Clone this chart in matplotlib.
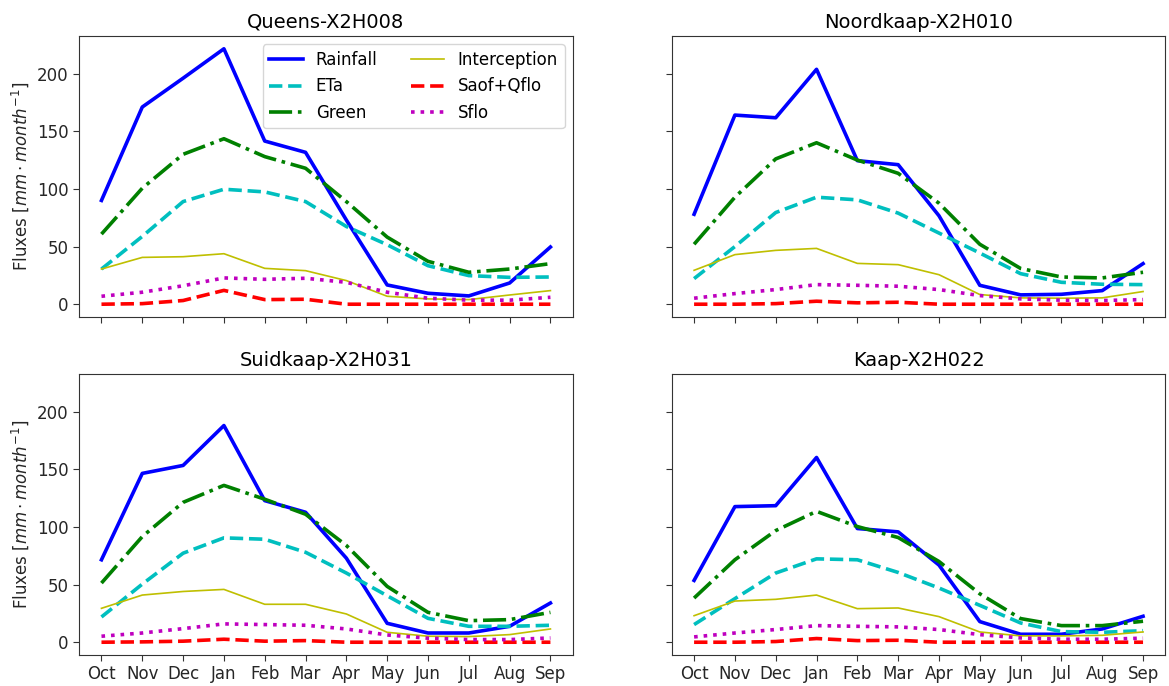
import matplotlib
matplotlib.use("Agg")
import matplotlib.pyplot as plt

months = ["Oct", "Nov", "Dec", "Jan", "Feb", "Mar", "Apr", "May", "Jun", "Jul", "Aug", "Sep"]
titles = ["Queens-X2H008", "Noordkaap-X2H010", "Suidkaap-X2H031", "Kaap-X2H022"]
series_names = ["Rainfall", "ETa", "Green", "Interception", "Saof+Qflo", "Sflo"]

# Queens-X2H008
queens_rain = [90, 171, 196, 221.5, 141.5, 131.7, 73, 16.7, 9.5, 7.2, 18.4, 49.6]
queens_eta = [30.5, 58.8, 89, 99.7, 97.4, 89, 67.4, 51.6, 33.4, 24.8, 23.3, 23.6]
queens_green = [60.8, 100.6, 130, 143.5, 128, 117.9, 89, 58.2, 37.2, 27.7, 30.5, 35.2]
queens_interc = [30.5, 40.6, 41.2, 43.8, 31.1, 29.1, 20.5, 6.9, 4.6, 4.0, 8.0, 11.8]
queens_saof = [0, 0.5, 3.2, 12, 4, 4.3, 0, 0, 0, 0, 0, 0]
queens_sflo = [6.9, 10.4, 16, 22.8, 21.6, 22.5, 19, 10.4, 5.2, 3.5, 3.5, 6]

# Noordkaap-X2H010
noord_rain = [78, 164, 161.7, 203.7, 124.5, 121, 76.7, 16.4, 8.1, 8.6, 11.8, 35.2]
noord_eta = [22.2, 50, 79.5, 92.8, 90.5, 79, 61.7, 44.4, 26.5, 19, 17.3, 17]
noord_green = [52, 92.8, 126, 140, 125, 113.5, 87.6, 52, 31, 23.6, 22.8, 27.7]
noord_interc = [29.4, 43, 46.7, 48.4, 35.4, 34.3, 25.6, 8.4, 5.5, 5.2, 5.5, 11]
noord_saof = [0, 0, 0.5, 2.6, 1.2, 1.7, 0, 0, 0, 0, 0, 0]
noord_sflo = [5.2, 9.2, 12.7, 17, 16.4, 15.6, 12.7, 7.5, 4.6, 3.5, 3.2, 4]

# Suidkaap-X2H031
suid_rain = [71.5, 146.4, 153.3, 187.9, 122.8, 112.7, 72.9, 16.4, 8, 8, 13.8, 34]
suid_eta = [21.9, 50.4, 77.2, 90.5, 89.3, 78, 60, 40.3, 20.7, 13.8, 13.8, 14.7]
suid_green = [51.3, 91.6, 121.3, 136, 124, 111, 83.9, 48.4, 25.9, 18.7, 19.6, 25.9]
suid_interc = [29.4, 40.9, 44, 45.8, 32.9, 32.9, 24.5, 8.6, 5.2, 4.9, 6.6, 11.5]
suid_saof = [0, 0.3, 0.9, 2.6, 0.9, 1.4, 0, 0, 0, 0, 0, 0]
suid_sflo = [5.2, 8, 11.8, 15.9, 15.3, 14.7, 11.5, 6.3, 3.5, 2.3, 2.3, 3.7]

# Kaap-X2H022
kaap_rain = [53.6, 117.6, 118.4, 160.2, 98.6, 95.7, 66.9, 17.9, 6.9, 6.9, 11.5, 22.5]
kaap_eta = [15.3, 37.8, 60, 72.3, 71.5, 60.5, 47, 32, 16.7, 9.2, 8.6, 10]
kaap_green = [38.3, 71.5, 96.8, 113.5, 100.3, 90.8, 70, 42, 20.5, 14.4, 14.4, 18.2]
kaap_interc = [23, 35.7, 37.2, 40.9, 29.1, 29.7, 22.2, 8.9, 5.5, 5.5, 6, 8.9]
kaap_saof = [0, 0, 0.6, 3.2, 1.4, 1.7, 0, 0, 0, 0, 0, 0]
kaap_sflo = [4.6, 8, 11, 14.4, 13.8, 13.3, 11, 6.6, 3.7, 2.6, 2.6, 3.5]

data = [
    [queens_rain, queens_eta, queens_green, queens_interc, queens_saof, queens_sflo],
    [noord_rain, noord_eta, noord_green, noord_interc, noord_saof, noord_sflo],
    [suid_rain, suid_eta, suid_green, suid_interc, suid_saof, suid_sflo],
    [kaap_rain, kaap_eta, kaap_green, kaap_interc, kaap_saof, kaap_sflo],
]

styles = [
    dict(color="b", linestyle="-", linewidth=2.6),
    dict(color="c", linestyle="--", linewidth=2.6),
    dict(color="g", linestyle="-.", linewidth=2.6),
    dict(color="y", linestyle="-", linewidth=1.2),
    dict(color="r", linestyle="--", linewidth=2.6),
    dict(color="m", linestyle=":", linewidth=2.6),
]

edge = "#333333"
plt.rcParams.update({
    "font.family": "DejaVu Sans",
    "axes.edgecolor": edge,
    "xtick.color": edge,
    "ytick.color": edge,
    "xtick.labelcolor": "#262626",
    "ytick.labelcolor": "#262626",
    "text.color": "#000000",
    "axes.labelcolor": "#262626",
    "font.size": 12,
})

fig, axes = plt.subplots(2, 2, figsize=(11.69, 6.86), dpi=100, sharex=True, sharey=True)
fig.subplots_adjust(left=0.0676, right=0.997, top=0.9475, bottom=0.0452, wspace=0.2, hspace=0.203)

x = list(range(len(months)))
for ax, title, series in zip(axes.flat, titles, data):
    for name, vals, st in zip(series_names, series, styles):
        ax.plot(x, vals, label=name, **st)
    ax.set_title(title, fontsize=14)
    ax.tick_params(labelsize=12, length=4)

for ax in axes[:, 0]:
    ax.set_ylabel(r"Fluxes [$mm \cdot month^{-1}$]", fontsize=12)

axes[1, 0].set_xticks(x)
axes[1, 0].set_xticklabels(months)
axes[0, 0].set_yticks([0, 50, 100, 150, 200])

axes[0, 0].legend(ncol=2, loc="upper right", fontsize=12)

fig.savefig("out.png", dpi=100)
